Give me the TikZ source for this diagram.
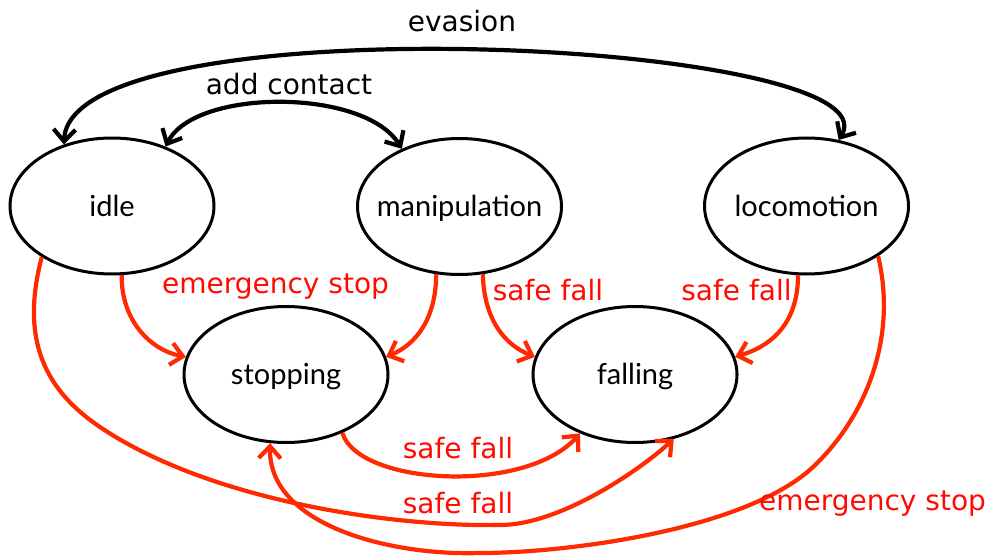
\documentclass[tikz,border=0pt]{standalone}
\usepackage{fontspec}
\setmainfont{DejaVu Sans}
\newfontfamily\statefont{Lato}
\usetikzlibrary{arrows.meta,shapes.geometric}
\definecolor{linered}{RGB}{255,42,0}
\definecolor{textred}{RGB}{255,10,0}
\begin{document}
\begin{tikzpicture}[x=1pt,y=-1pt,
  >={Straight Barb[length=12pt,width=22pt]},
  state/.style={ellipse,draw,line width=3pt,minimum width=204pt,minimum height=136pt,inner sep=0pt},
  statetext/.style={inner sep=0pt,font=\statefont\fontsize{29}{35}\selectfont,text height=22pt,text depth=2pt},
  blackedge/.style={line width=4.2pt,black},
  rededge/.style={line width=4.2pt,linered,->},
  lbl/.style={anchor=base,inner sep=0pt,font=\fontsize{28}{34}\selectfont},
  redlbl/.style={lbl,text=textred}]
\useasboundingbox (0,0) rectangle (992,556);
\node[state,label={[statetext]center:idle}] (idle) at (112,206) {};
\node[state,label={[statetext]center:manipulation}] (manip) at (459.5,206.5) {};
\node[state,label={[statetext]center:locomotion}] (loco) at (806.5,206) {};
\node[state,label={[statetext]center:stopping}] (stopping) at (286,374.5) {};
\node[state,label={[statetext]center:falling}] (falling) at (635,374.5) {};

% black edges
\draw[blackedge,<->] (idle.128) .. controls (70,0) and (900,40) .. (loco.64);
\draw[blackedge,<->] (idle.48) .. controls (195,88) and (365,88) .. (manip.135);

% red edges
\draw[rededge] (idle.-82) .. controls (121,320) and (150,350) .. (stopping.170);
\draw[rededge] (manip.-109) .. controls (436,320) and (415,345) .. (stopping.10);
\draw[rededge] (manip.-71) .. controls (484,320) and (505,345) .. (falling.170);
\draw[rededge] (loco.-97) .. controls (798,320) and (775,345) .. (falling.10);
\draw[rededge] (stopping.-46) .. controls (358,485) and (525,495) .. (falling.-133);
\draw[rededge] (idle.-144) .. controls (20,340) and (45,390) .. (100,427)
   .. controls (208,500) and (390,527) .. (500,525)
   .. controls (560,525) and (640,470) .. (falling.-59);
\draw[rededge] (loco.-35) .. controls (898,340) and (864,419) .. (813,467)
   .. controls (747,529) and (570,553) .. (480,553)
   .. controls (390,556) and (268,525) .. (stopping.-103);

% labels
\node[lbl] (evasion) at (462,32) {evasion};
\node[lbl] (addcontact) at (289,95) {add contact};
\node[redlbl] (estop1) at (275.5,293) {emergency stop};
\node[redlbl] (sf1) at (548,300) {safe fall};
\node[redlbl] (sf2) at (736.5,300) {safe fall};
\node[redlbl] (sf3) at (458,458) {safe fall};
\node[redlbl] (sf4) at (458,513) {safe fall};
\node[redlbl] (estop2) at (872.5,510) {emergency stop};
\end{tikzpicture}
\end{document}
